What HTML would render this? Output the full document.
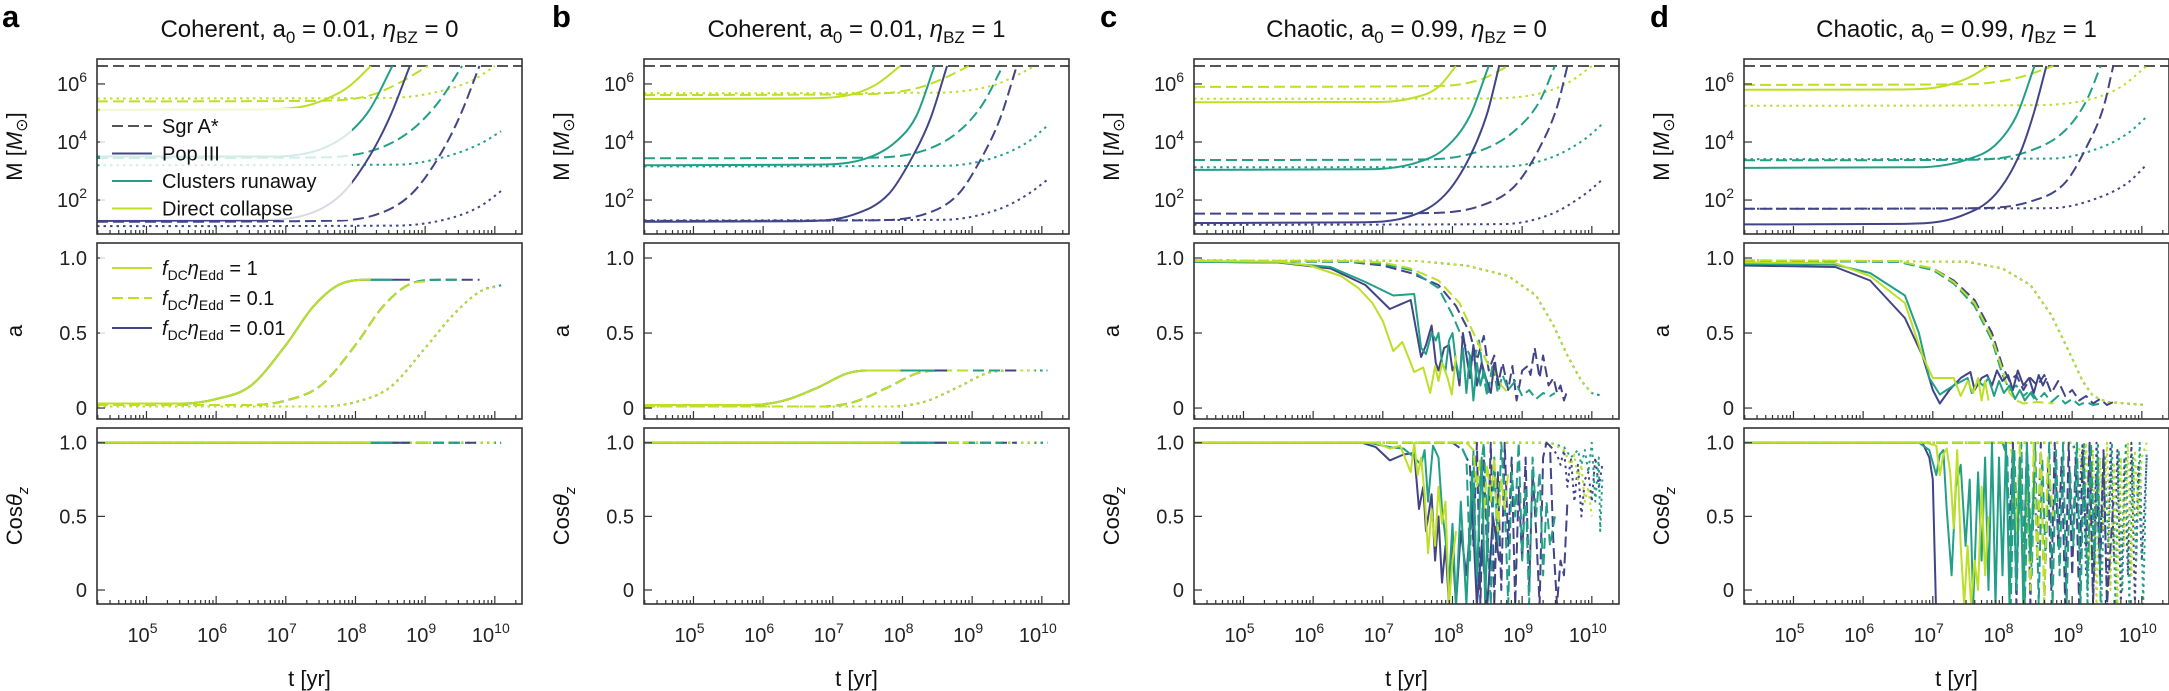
<!DOCTYPE html>
<html><head><meta charset="utf-8">
<style>
html,body{margin:0;padding:0;background:#fff;}
svg{display:block;font-family:"Liberation Sans","DejaVu Sans",sans-serif;}
</style></head>
<body>
<svg id="fig" xmlns="http://www.w3.org/2000/svg" width="2169" height="691" viewBox="0 0 2169 691"></svg>
<script>
// ---------- data (log10 t [yr], value) ----------
const sgrA = 6.62; // log10 M of Sgr A*
// Panel a: Coherent, a0=0.01, eta_BZ=0  (mass: log10 M)
const A_M_pop_solid=[[4.29,1.28],[6.5,1.3],[7.3,1.5],[7.8,2.2],[8.2,3.5],[8.5,4.9],[8.78,6.62]];
const A_M_pop_dash=[[4.29,1.25],[7.5,1.28],[8.3,1.5],[8.8,2.2],[9.2,3.5],[9.5,4.9],[9.78,6.62]];
const A_M_pop_dot=[[4.29,1.1],[8.6,1.12],[9.4,1.4],[9.8,1.8],[10.09,2.31]];
const A_M_cl_solid=[[4.29,3.5],[6.8,3.5],[7.5,3.75],[7.9,4.3],[8.2,5.1],[8.53,6.62]];
const A_M_cl_dash=[[4.29,3.45],[7.5,3.47],[8.3,3.75],[8.8,4.4],[9.2,5.4],[9.53,6.62]];
const A_M_cl_dot=[[4.29,3.2],[8.6,3.22],[9.3,3.5],[9.8,3.95],[10.09,4.37]];
const A_M_dc_solid=[[4.29,5.11],[6.5,5.12],[7.2,5.2],[7.6,5.5],[7.9,5.9],[8.22,6.62]];
const A_M_dc_dash=[[4.29,5.4],[7.5,5.42],[8.2,5.6],[8.6,6.0],[9.04,6.62]];
const A_M_dc_dot=[[4.29,5.5],[8.5,5.52],[9.3,5.8],[9.7,6.15],[10.0,6.62]];
const A_a_solid=[[4.29,0.03],[5.5,0.03],[6.0,0.06],[6.5,0.15],[7.0,0.42],[7.4,0.68],[7.8,0.83],[8.2,0.855],[8.78,0.855]];
const A_a_dash=[[4.29,0.02],[6.5,0.02],[7.0,0.05],[7.5,0.15],[8.0,0.42],[8.4,0.68],[8.8,0.83],[9.2,0.855],[9.8,0.855]];
const A_a_dot=[[4.29,0.01],[7.5,0.01],[8.0,0.04],[8.5,0.14],[9.0,0.4],[9.4,0.62],[9.8,0.78],[10.1,0.82]];
const COH_cos=[[4.29,1],[10.2,1]];
// Panel b: Coherent, a0=0.01, eta_BZ=1
const B_M_pop_solid=[[4.29,1.25],[6.5,1.27],[7.3,1.5],[7.8,2.2],[8.1,3.3],[8.4,4.8],[8.64,6.62]];
const B_M_pop_dash=[[4.29,1.28],[7.5,1.3],[8.3,1.5],[8.8,2.2],[9.1,3.3],[9.4,4.8],[9.64,6.62]];
const B_M_pop_dot=[[4.29,1.3],[8.6,1.32],[9.4,1.7],[9.8,2.2],[10.08,2.7]];
const B_M_cl_solid=[[4.29,3.2],[6.8,3.22],[7.5,3.45],[7.9,4.0],[8.2,4.9],[8.46,6.62]];
const B_M_cl_dash=[[4.29,3.44],[7.5,3.46],[8.3,3.7],[8.8,4.35],[9.15,5.3],[9.44,6.62]];
const B_M_cl_dot=[[4.29,3.16],[8.6,3.18],[9.3,3.45],[9.8,4.0],[10.08,4.56]];
const B_M_dc_solid=[[4.29,5.48],[6.5,5.5],[7.2,5.6],[7.6,5.95],[7.97,6.62]];
const B_M_dc_dash=[[4.29,5.62],[7.5,5.65],[8.2,5.85],[8.6,6.2],[8.95,6.62]];
const B_M_dc_dot=[[4.29,5.68],[8.5,5.7],[9.3,5.95],[9.6,6.25],[9.9,6.62]];
const B_a_solid=[[4.29,0.02],[5.8,0.02],[6.3,0.05],[6.8,0.14],[7.2,0.23],[7.5,0.25],[8.7,0.25]];
const B_a_dash=[[4.29,0.01],[6.8,0.01],[7.3,0.04],[7.8,0.14],[8.2,0.23],[8.5,0.25],[9.7,0.25]];
const B_a_dot=[[4.29,0.01],[7.8,0.01],[8.3,0.04],[8.8,0.14],[9.2,0.23],[9.5,0.25],[10.1,0.25]];
// Panel c: Chaotic, a0=0.99, eta_BZ=0
const C_M_pop_solid=[[4.29,1.21],[6.6,1.23],[7.4,1.45],[7.9,2.2],[8.25,3.5],[8.5,5.0],[8.67,6.62]];
const C_M_pop_dash=[[4.29,1.53],[7.6,1.55],[8.4,1.8],[8.9,2.5],[9.25,3.8],[9.5,5.2],[9.65,6.62]];
const C_M_pop_dot=[[4.29,1.15],[8.7,1.17],[9.4,1.5],[9.9,2.2],[10.15,2.7]];
const C_M_cl_solid=[[4.29,3.04],[6.8,3.06],[7.5,3.3],[7.9,3.8],[8.25,4.9],[8.52,6.62]];
const C_M_cl_dash=[[4.29,3.38],[7.6,3.4],[8.4,3.7],[8.9,4.4],[9.25,5.4],[9.47,6.62]];
const C_M_cl_dot=[[4.29,3.13],[8.7,3.15],[9.4,3.45],[9.9,4.1],[10.15,4.62]];
const C_M_dc_solid=[[4.29,5.37],[6.8,5.38],[7.4,5.5],[7.8,5.9],[8.05,6.62]];
const C_M_dc_dash=[[4.29,5.9],[7.8,5.93],[8.4,6.15],[8.8,6.62]];
const C_M_dc_dot=[[4.29,5.49],[8.5,5.5],[9.3,5.7],[9.7,6.1],[10.0,6.62]];
const C_a_pop_solid=[[4.29,0.975],[5.5,0.97],[6.25,0.93],[6.75,0.82],[7.1,0.66],[7.4,0.72],[7.55,0.34],[7.62,0.42],[7.7,0.55],[7.76,0.3],[7.8,0.25],[7.88,0.4],[7.95,0.42],[8.0,0.25],[8.05,0.3],[8.1,0.15],[8.15,0.5],[8.2,0.35],[8.25,0.2],[8.3,0.42],[8.35,0.15],[8.42,0.3],[8.48,0.2],[8.55,0.1],[8.6,0.3],[8.67,0.15]];
const C_a_cl_solid=[[4.29,0.975],[5.5,0.97],[6.25,0.94],[6.75,0.84],[7.15,0.75],[7.45,0.76],[7.55,0.4],[7.62,0.36],[7.7,0.5],[7.76,0.45],[7.8,0.5],[7.85,0.3],[7.9,0.25],[7.95,0.45],[8.0,0.5],[8.05,0.3],[8.1,0.2],[8.15,0.4],[8.2,0.1],[8.25,0.35],[8.3,0.05],[8.35,0.3],[8.4,0.15],[8.45,0.25],[8.52,0.1]];
const C_a_dc_solid=[[4.29,0.98],[5.5,0.975],[5.95,0.95],[6.4,0.88],[6.65,0.8],[6.85,0.7],[7.0,0.58],[7.15,0.38],[7.28,0.44],[7.4,0.3],[7.45,0.24],[7.58,0.27],[7.68,0.1],[7.75,0.28],[7.8,0.18],[7.85,0.3],[7.93,0.2],[7.99,0.09],[8.05,0.35]];
const C_a_pop_dash=[[4.29,0.98],[6.5,0.975],[7.0,0.95],[7.4,0.9],[7.8,0.82],[8.05,0.68],[8.25,0.5],[8.35,0.32],[8.45,0.48],[8.52,0.25],[8.6,0.35],[8.65,0.15],[8.72,0.3],[8.8,0.12],[8.86,0.28],[8.92,0.05],[9.0,0.25],[9.08,0.28],[9.12,0.22],[9.18,0.4],[9.25,0.2],[9.3,0.35],[9.38,0.15],[9.45,0.2],[9.5,0.1],[9.55,0.15],[9.6,0.05],[9.65,0.12]];
const C_a_cl_dash=[[4.29,0.98],[6.5,0.975],[7.0,0.96],[7.4,0.92],[7.8,0.8],[8.0,0.62],[8.2,0.4],[8.3,0.3],[8.38,0.45],[8.45,0.2],[8.5,0.08],[8.58,0.3],[8.65,0.1],[8.72,0.22],[8.8,0.12],[8.9,0.18],[9.0,0.08],[9.1,0.12],[9.2,0.06],[9.3,0.1],[9.4,0.08],[9.47,0.1]];
const C_a_dc_dash=[[4.29,0.985],[6.5,0.98],[7.0,0.97],[7.4,0.93],[7.8,0.85],[8.1,0.7],[8.3,0.5],[8.4,0.4],[8.5,0.3],[8.6,0.25],[8.7,0.15],[8.8,0.1]];
const C_a_dot=[[4.29,0.985],[7.5,0.98],[8.2,0.95],[8.8,0.88],[9.2,0.75],[9.45,0.55],[9.65,0.35],[9.85,0.18],[10.0,0.1],[10.15,0.08]];
const C_c_pop_solid=[[4.29,1],[6.7,1],[6.9,0.97],[7.1,0.88],[7.3,0.92],[7.45,0.93],[7.52,0.55],[7.58,0.7],[7.62,0.4],[7.7,0.65],[7.75,0.2],[7.8,0.5],[7.85,0.05],[7.9,0.3],[7.95,-0.1],[8.0,0.3],[8.05,-0.1],[8.12,0.4],[8.2,0.1],[8.28,0.6],[8.35,-0.1],[8.42,0.3],[8.5,-0.1],[8.58,0.5],[8.67,0.2]];
const C_c_cl_solid=[[4.29,1],[6.8,1],[7.1,0.97],[7.3,0.96],[7.45,0.9],[7.55,0.85],[7.6,0.95],[7.65,0.6],[7.72,0.98],[7.8,0.9],[7.85,0.55],[7.9,0.35],[7.95,0.05],[8.0,0.45],[8.05,-0.1],[8.12,0.6],[8.2,-0.1],[8.28,0.8],[8.35,0.1],[8.42,0.9],[8.47,-0.1],[8.52,0.7]];
const C_c_dc_solid=[[4.29,1],[6.9,1],[7.1,0.96],[7.25,0.98],[7.4,0.8],[7.45,1.0],[7.5,0.78],[7.55,0.9],[7.6,0.65],[7.65,0.25],[7.7,0.55],[7.75,0.3],[7.8,0.7],[7.85,0.45],[7.9,0.6],[7.95,-0.1],[8.0,0.2],[8.05,0.4]];
const C_c_pop_dash=[[4.29,1],[8.0,1],[8.15,0.95],[8.25,0.85],[8.3,0.3],[8.35,1.0],[8.4,-0.1],[8.45,0.9],[8.5,0.2],[8.55,1.0],[8.6,-0.1],[8.65,0.8],[8.7,0.0],[8.75,1.0],[8.8,0.3],[8.85,0.9],[8.9,-0.1],[8.95,0.7],[9.0,0.2],[9.05,0.9],[9.1,0.0],[9.15,0.8],[9.2,0.4],[9.25,-0.1],[9.3,0.9],[9.35,1.0],[9.4,0.98],[9.45,0.3],[9.5,-0.1],[9.55,0.2],[9.6,0.1],[9.65,0.6]];
const C_c_cl_dash=[[4.29,1],[8.1,1],[8.2,0.9],[8.25,0.2],[8.3,0.95],[8.35,-0.1],[8.4,0.8],[8.45,1.0],[8.5,0.4],[8.55,-0.1],[8.6,0.9],[8.65,0.3],[8.7,1.0],[8.75,0.6],[8.8,-0.1],[8.85,0.8],[8.9,0.5],[8.95,1.0],[9.0,0.2],[9.05,0.7],[9.1,-0.1],[9.15,0.9],[9.2,0.5],[9.25,0.8],[9.3,0.1],[9.35,0.6],[9.4,0.3],[9.47,0.5]];
const C_c_dc_dash=[[4.29,1],[8.2,1],[8.3,0.95],[8.35,0.7],[8.4,0.9],[8.45,0.5],[8.5,0.85],[8.55,0.6],[8.6,0.9],[8.65,0.4],[8.7,0.75],[8.75,0.55],[8.8,0.8]];
const C_c_pop_dot=[[4.29,1],[9.3,1],[9.4,0.98],[9.5,0.92],[9.55,0.85],[9.6,0.95],[9.65,0.7],[9.7,0.9],[9.75,0.6],[9.8,0.85],[9.85,0.5],[9.9,0.75],[9.95,0.8],[10.0,0.6],[10.05,0.9],[10.1,0.7],[10.15,0.85]];
const C_c_cl_dot=[[4.29,1],[9.4,1],[9.6,0.97],[9.7,0.9],[9.8,0.95],[9.85,0.85],[9.9,0.95],[9.95,0.8],[10.0,1.0],[10.05,0.6],[10.1,0.9],[10.12,0.4],[10.15,0.75]];
const C_c_dc_dot=[[4.29,1],[9.4,1],[9.6,0.95],[9.7,0.85],[9.75,0.92],[9.8,0.75],[9.85,0.85],[9.9,0.6],[9.95,0.7],[10.0,0.5]];
// Panel d: Chaotic, a0=0.99, eta_BZ=1
const D_M_pop_solid=[[4.29,1.16],[6.6,1.18],[7.4,1.45],[7.9,2.2],[8.25,3.6],[8.45,5.0],[8.63,6.62]];
const D_M_pop_dash=[[4.29,1.7],[7.6,1.72],[8.4,1.95],[8.9,2.6],[9.2,3.8],[9.45,5.2],[9.59,6.62]];
const D_M_pop_dot=[[4.29,1.7],[8.7,1.72],[9.4,2.1],[9.8,2.6],[10.07,3.22]];
const D_M_cl_solid=[[4.29,3.11],[6.8,3.13],[7.5,3.4],[7.9,3.9],[8.2,4.9],[8.46,6.62]];
const D_M_cl_dash=[[4.29,3.37],[7.6,3.39],[8.4,3.7],[8.9,4.4],[9.2,5.4],[9.41,6.62]];
const D_M_cl_dot=[[4.29,3.41],[8.7,3.43],[9.4,3.8],[9.8,4.3],[10.07,4.87]];
const D_M_dc_solid=[[4.29,5.8],[6.5,5.81],[7.1,5.9],[7.5,6.2],[7.8,6.62]];
const D_M_dc_dash=[[4.29,5.97],[7.5,5.99],[8.2,6.2],[8.73,6.62]];
const D_M_dc_dot=[[4.29,5.25],[8.5,5.27],[9.3,5.5],[9.7,5.9],[10.07,6.62]];
const D_a_pop_solid=[[4.29,0.95],[5.6,0.94],[6.1,0.85],[6.6,0.6],[6.85,0.35],[7.0,0.12],[7.1,0.03],[7.24,0.12],[7.4,0.2],[7.54,0.24],[7.6,0.12],[7.7,0.2],[7.78,0.22],[7.85,0.15],[7.92,0.25],[8.0,0.18],[8.08,0.22],[8.15,0.12],[8.22,0.25],[8.3,0.15],[8.38,0.2],[8.45,0.1],[8.52,0.22],[8.58,0.15],[8.63,0.2]];
const D_a_cl_solid=[[4.29,0.96],[5.6,0.955],[6.1,0.9],[6.6,0.75],[6.8,0.5],[6.95,0.2],[7.1,0.09],[7.3,0.15],[7.5,0.2],[7.56,0.1],[7.65,0.18],[7.72,0.15],[7.8,0.2],[7.88,0.08],[7.95,0.18],[8.02,0.1],[8.1,0.15],[8.18,0.06],[8.25,0.12],[8.32,0.05],[8.4,0.1],[8.46,0.06]];
const D_a_dc_solid=[[4.29,0.97],[5.6,0.965],[6.1,0.88],[6.6,0.7],[6.85,0.35],[7.0,0.2],[7.3,0.2],[7.4,0.08],[7.5,0.18],[7.58,0.1],[7.65,0.2],[7.7,0.05],[7.75,0.18],[7.8,0.05]];
const D_a_pop_dash=[[4.29,0.98],[6.5,0.975],[7.0,0.93],[7.3,0.85],[7.6,0.72],[7.85,0.5],[8.0,0.28],[8.1,0.18],[8.2,0.22],[8.3,0.12],[8.4,0.2],[8.5,0.15],[8.6,0.22],[8.7,0.1],[8.8,0.18],[8.9,0.08],[9.0,0.12],[9.1,0.05],[9.2,0.08],[9.3,0.03],[9.4,0.06],[9.5,0.02],[9.59,0.04]];
const D_a_cl_dash=[[4.29,0.98],[6.5,0.975],[7.0,0.92],[7.3,0.83],[7.6,0.68],[7.85,0.45],[8.0,0.22],[8.1,0.12],[8.2,0.15],[8.3,0.08],[8.4,0.12],[8.5,0.05],[8.6,0.1],[8.7,0.04],[8.8,0.08],[8.9,0.03],[9.0,0.06],[9.1,0.02],[9.2,0.04],[9.3,0.02],[9.41,0.03]];
const D_a_dc_dash=[[4.29,0.985],[6.5,0.98],[7.0,0.93],[7.3,0.84],[7.6,0.7],[7.85,0.47],[8.0,0.25],[8.1,0.1],[8.2,0.05],[8.3,0.03],[8.5,0.04],[8.73,0.03]];
const D_a_dot=[[4.29,0.985],[7.5,0.975],[8.0,0.93],[8.4,0.82],[8.7,0.62],[8.95,0.38],[9.15,0.18],[9.3,0.08],[9.5,0.04],[10.07,0.02]];
const D_c_pop_solid=[[4.29,1],[6.85,1],[6.95,0.9],[7.0,0.75],[7.05,-0.2]];
const D_c_cl_solid=[[4.29,1],[6.8,1],[6.95,0.95],[7.05,0.78],[7.1,0.92],[7.15,0.95],[7.2,0.55],[7.27,0.1],[7.33,0.7],[7.4,0.85],[7.47,0.3],[7.53,0.75],[7.58,-0.1],[7.65,0.8],[7.7,0.2],[7.75,0.9],[7.8,0.0],[7.85,1.0],[7.9,-0.1],[7.95,0.9],[8.0,0.1],[8.05,1.0],[8.1,-0.1],[8.15,0.95],[8.2,0.0],[8.25,0.9],[8.3,-0.1],[8.35,1.0],[8.4,0.2],[8.46,0.8]];
const D_c_dc_solid=[[4.29,1],[6.9,1],[7.05,0.98],[7.1,0.78],[7.15,0.92],[7.2,0.96],[7.25,0.8],[7.3,0.42],[7.35,0.95],[7.4,0.3],[7.45,-0.1],[7.5,0.3],[7.55,-0.1],[7.6,0.2],[7.65,0.0],[7.7,0.7],[7.75,0.1],[7.8,0.5]];
const D_c_pop_dash=[[4.29,1],[8.0,1],[8.05,0.95],[8.1,0.4],[8.15,1.0],[8.2,-0.1],[8.25,0.9],[8.3,0.1],[8.35,1.0],[8.4,-0.1],[8.45,0.95],[8.5,0.2],[8.55,1.0],[8.6,-0.1],[8.65,0.85],[8.7,0.0],[8.75,1.0],[8.8,0.3],[8.85,0.9],[8.9,-0.1],[8.95,1.0],[9.0,0.1],[9.05,0.9],[9.1,-0.1],[9.15,0.95],[9.2,0.3],[9.25,1.0],[9.3,-0.1],[9.35,0.8],[9.4,0.1],[9.45,0.95],[9.5,-0.1],[9.59,0.6]];
const D_c_cl_dash=[[4.29,1],[8.0,1],[8.07,0.9],[8.12,-0.1],[8.17,0.95],[8.22,0.3],[8.27,1.0],[8.32,-0.1],[8.37,0.85],[8.42,0.1],[8.47,1.0],[8.52,-0.1],[8.57,0.9],[8.62,0.2],[8.67,1.0],[8.72,-0.1],[8.77,0.95],[8.82,0.1],[8.87,1.0],[8.92,-0.1],[8.97,0.8],[9.02,0.3],[9.07,1.0],[9.12,-0.1],[9.17,0.9],[9.22,0.0],[9.27,1.0],[9.32,0.2],[9.37,0.9],[9.41,-0.1]];
const D_c_dc_dash=[[4.29,1],[8.1,1],[8.15,0.9],[8.2,0.4],[8.25,1.0],[8.3,-0.1],[8.35,0.9],[8.4,0.0],[8.45,1.0],[8.5,0.2],[8.55,0.95],[8.6,-0.1],[8.65,0.9],[8.73,0.5]];
const D_c_pop_dot=[[4.29,1],[9.0,1],[9.05,0.95],[9.1,0.6],[9.15,1.0],[9.2,0.1],[9.25,0.95],[9.3,-0.1],[9.35,1.0],[9.4,0.3],[9.45,0.9],[9.5,-0.1],[9.55,1.0],[9.6,0.2],[9.65,0.95],[9.7,-0.1],[9.75,0.9],[9.8,0.1],[9.85,1.0],[9.9,-0.1],[9.95,0.85],[10.0,0.2],[10.07,0.9]];
const D_c_cl_dot=[[4.29,1],[9.0,1],[9.07,0.9],[9.12,0.2],[9.17,1.0],[9.22,-0.1],[9.27,0.85],[9.32,0.1],[9.37,1.0],[9.42,-0.1],[9.47,0.9],[9.52,0.3],[9.57,1.0],[9.62,-0.1],[9.67,0.95],[9.72,0.0],[9.77,1.0],[9.82,-0.1],[9.87,0.9],[9.92,0.2],[9.97,1.0],[10.02,-0.1],[10.07,0.95]];
const D_c_dc_dot=[[4.29,1],[9.0,1],[9.1,0.98],[9.15,0.7],[9.2,1.0],[9.25,0.2],[9.3,0.95],[9.35,-0.1],[9.4,0.9],[9.45,0.4],[9.5,1.0],[9.55,0.0],[9.6,0.85],[9.65,-0.1],[9.7,0.9],[9.75,0.3],[9.8,1.0],[9.85,0.1],[9.9,0.95],[9.95,0.5],[10.0,0.9],[10.07,1.0]];
const xTickExps=[5,6,7,8,9,10];
const mTickExps=[2,4,6];
const linTicks=[0,0.5,1.0];
const linTickLabels=["0","0.5","1.0"];

// ---------- layout ----------
const NS="http://www.w3.org/2000/svg";
const svg=document.getElementById('fig');
const COLORS={pop:'#414487',cl:'#22a087',dc:'#bddf26'};
const DASH={solid:null,dash:'11,5',dot:'2.5,4'};
const XD=[4.29,10.39], PW=425;
const ROWS={M:{y0:59,y1:234,d:[0.83,6.86]},a:{y0:243,y1:419,d:[-0.073,1.1]},c:{y0:428,y1:604,d:[-0.095,1.10]}};
function el(tag,attrs,parent){const e=document.createElementNS(NS,tag);for(const k in attrs)e.setAttribute(k,attrs[k]);(parent||svg).appendChild(e);return e;}
function monotonePath(pts){
  const n=pts.length; if(n<2) return '';
  if(n===2) return `M${pts[0][0]},${pts[0][1]}L${pts[1][0]},${pts[1][1]}`;
  const dx=[],s=[];for(let i=0;i<n-1;i++){dx[i]=pts[i+1][0]-pts[i][0];s[i]=(pts[i+1][1]-pts[i][1])/dx[i];}
  const m=[s[0]];for(let i=1;i<n-1;i++){m[i]=(s[i-1]*s[i]<=0)?0:(s[i-1]+s[i])/2;}m[n-1]=s[n-2];
  for(let i=0;i<n-1;i++){if(s[i]===0){m[i]=0;m[i+1]=0;continue;}const a=m[i]/s[i],b=m[i+1]/s[i],h=a*a+b*b;if(h>9){const t=3/Math.sqrt(h);m[i]=t*a*s[i];m[i+1]=t*b*s[i];}}
  let d=`M${pts[0][0]},${pts[0][1]}`;
  for(let i=0;i<n-1;i++){const h=dx[i]/3;d+=`C${pts[i][0]+h},${pts[i][1]+m[i]*h} ${pts[i+1][0]-h},${pts[i+1][1]-m[i+1]*h} ${pts[i+1][0]},${pts[i+1][1]}`;}
  return d;
}
function truncate(pts,tEnd){
  const out=[];for(let i=0;i<pts.length;i++){
    if(pts[i][0]<=tEnd){out.push(pts[i]);}
    else{const p=pts[i-1];if(p){const f=(tEnd-p[0])/(pts[i][0]-p[0]);out.push([tEnd,p[1]+f*(pts[i][1]-p[1])]);}break;}
  }return out;
}
let clipId=0;
function buildPanel(P){
  const L=P.left;
  const X=t=>L+(t-XD[0])/(XD[1]-XD[0])*PW;
  const g=el('g',{});  
  const letter=el('text',{x:P.letterX,y:27,'font-size':31,'font-weight':'bold',fill:'#000'},g);letter.textContent=P.letter;
  
  const title=el('text',{x:L+PW/2,y:37,'font-size':24,'text-anchor':'middle',fill:'#111'},g);
  
  title.innerHTML=`${P.kind}, a<tspan dy="6" font-size="17">0</tspan><tspan dy="-6"> = ${P.a0}, </tspan><tspan font-style="italic">η</tspan><tspan dy="6" font-size="17">BZ</tspan><tspan dy="-6"> = ${P.bz}</tspan>`;
  for(const key of ['M','a','c']){
    const R=ROWS[key];
    const Y=key==='M'?(v=>R.y1-(v-R.d[0])/(R.d[1]-R.d[0])*(R.y1-R.y0)):(v=>R.y1-(v-R.d[0])/(R.d[1]-R.d[0])*(R.y1-R.y0));
    const sub=el('g',{},g);
    const cid='clip'+(clipId++);
    const cp=el('clipPath',{id:cid},sub);el('rect',{x:L,y:R.y0,width:PW,height:R.y1-R.y0},cp);
    const lines=el('g',{'clip-path':`url(#${cid})`},sub);
    if(key==='M'){const s=el('line',{x1:L,x2:L+PW,y1:Y(sgrA),y2:Y(sgrA),stroke:'#555','stroke-width':2,'stroke-dasharray':'11,5'},lines);
      }
    for(const style of ['dot','dash','solid']){for(const seed of ['pop','cl','dc']){
      const mser=P.M[seed][style]; const tEnd=mser[mser.length-1][0];
      let raw=key==='M'?mser:(key==='a'?P.a[seed][style]:P.c[seed][style]);
      raw=truncate(raw,tEnd);
      const pts=raw.map(p=>[X(p[0]),Y(p[1])]);
      const smooth=key==='M'||P.coherent;
      const d=smooth?monotonePath(pts):('M'+pts.map(p=>p[0].toFixed(1)+','+p[1].toFixed(1)).join('L'));
      const a={d:d,fill:'none',stroke:COLORS[seed],'stroke-width':2,'stroke-linejoin':'round'};
      if(DASH[style])a['stroke-dasharray']=DASH[style];
      const path=el('path',a,lines);
      
      
    }}
    // frame
    const fr=el('rect',{x:L,y:R.y0,width:PW,height:R.y1-R.y0,fill:'none',stroke:'#333','stroke-width':1.6},sub);
    
    // x ticks
    for(let e=4;e<=10;e++){for(let k=1;k<=9;k++){const t=e+Math.log10(k);if(t<XD[0]||t>XD[1])continue;
      const x=X(t);el('line',{x1:x,x2:x,y1:R.y1,y2:R.y1-(k===1?8:4),stroke:'#333','stroke-width':1.2},sub);}}
    // y ticks
    const ticks=key==='M'?mTickExps:linTicks;
    ticks.forEach((v,i)=>{const y=Y(v);el('line',{x1:L,x2:L+8,y1:y,y2:y,stroke:'#333','stroke-width':1.2},sub);
      const tx=el('text',{x:L-10,y:y+7,'font-size':20,'text-anchor':'end',fill:'#222'},sub);
      
      if(key==='M')tx.innerHTML=`10<tspan dy="-9" font-size="14">${v}</tspan>`;else tx.textContent=linTickLabels[i];});
    // y label
    const cy=(R.y0+R.y1)/2, lx=L-75;
    const yl=el('text',{x:lx,y:cy,'font-size':22,'text-anchor':'middle',fill:'#111',transform:`rotate(-90 ${lx} ${cy})`},sub);
    
    if(key==='M')yl.innerHTML=`M [<tspan font-style="italic">M</tspan><tspan dy="5" font-size="16">⊙</tspan><tspan dy="-5">]</tspan>`;
    else if(key==='a')yl.textContent='a';
    else yl.innerHTML=`Cos<tspan font-style="italic">θ</tspan><tspan dy="6" font-size="15" font-style="italic">z</tspan>`;
  }
  // x tick labels
  xTickExps.forEach(e=>{const tx=el('text',{x:X(e)-4,y:642,'font-size':20,'text-anchor':'middle',fill:'#222'},g);
    
    tx.innerHTML=`10<tspan dy="-9" font-size="14">${e}</tspan>`;});
  const xl=el('text',{x:L+PW/2,y:686,'font-size':22,'text-anchor':'middle',fill:'#111'},g);
  xl.textContent='t [yr]';
  return X;
}
const panels=[
 {letter:'a',letterX:2,left:97,kind:'Coherent',a0:'0.01',bz:'0',coherent:true,
  M:{pop:{solid:A_M_pop_solid,dash:A_M_pop_dash,dot:A_M_pop_dot},cl:{solid:A_M_cl_solid,dash:A_M_cl_dash,dot:A_M_cl_dot},dc:{solid:A_M_dc_solid,dash:A_M_dc_dash,dot:A_M_dc_dot}},
  a:{pop:{solid:A_a_solid,dash:A_a_dash,dot:A_a_dot},cl:{solid:A_a_solid,dash:A_a_dash,dot:A_a_dot},dc:{solid:A_a_solid,dash:A_a_dash,dot:A_a_dot}},
  c:{pop:{solid:COH_cos,dash:COH_cos,dot:COH_cos},cl:{solid:COH_cos,dash:COH_cos,dot:COH_cos},dc:{solid:COH_cos,dash:COH_cos,dot:COH_cos}}},
 {letter:'b',letterX:552,left:644,kind:'Coherent',a0:'0.01',bz:'1',coherent:true,
  M:{pop:{solid:B_M_pop_solid,dash:B_M_pop_dash,dot:B_M_pop_dot},cl:{solid:B_M_cl_solid,dash:B_M_cl_dash,dot:B_M_cl_dot},dc:{solid:B_M_dc_solid,dash:B_M_dc_dash,dot:B_M_dc_dot}},
  a:{pop:{solid:B_a_solid,dash:B_a_dash,dot:B_a_dot},cl:{solid:B_a_solid,dash:B_a_dash,dot:B_a_dot},dc:{solid:B_a_solid,dash:B_a_dash,dot:B_a_dot}},
  c:{pop:{solid:COH_cos,dash:COH_cos,dot:COH_cos},cl:{solid:COH_cos,dash:COH_cos,dot:COH_cos},dc:{solid:COH_cos,dash:COH_cos,dot:COH_cos}}},
 {letter:'c',letterX:1100,left:1194,kind:'Chaotic',a0:'0.99',bz:'0',coherent:false,
  M:{pop:{solid:C_M_pop_solid,dash:C_M_pop_dash,dot:C_M_pop_dot},cl:{solid:C_M_cl_solid,dash:C_M_cl_dash,dot:C_M_cl_dot},dc:{solid:C_M_dc_solid,dash:C_M_dc_dash,dot:C_M_dc_dot}},
  a:{pop:{solid:C_a_pop_solid,dash:C_a_pop_dash,dot:C_a_dot},cl:{solid:C_a_cl_solid,dash:C_a_cl_dash,dot:C_a_dot},dc:{solid:C_a_dc_solid,dash:C_a_dc_dash,dot:C_a_dot}},
  c:{pop:{solid:C_c_pop_solid,dash:C_c_pop_dash,dot:C_c_pop_dot},cl:{solid:C_c_cl_solid,dash:C_c_cl_dash,dot:C_c_cl_dot},dc:{solid:C_c_dc_solid,dash:C_c_dc_dash,dot:C_c_dc_dot}}},
 {letter:'d',letterX:1650,left:1744,kind:'Chaotic',a0:'0.99',bz:'1',coherent:false,
  M:{pop:{solid:D_M_pop_solid,dash:D_M_pop_dash,dot:D_M_pop_dot},cl:{solid:D_M_cl_solid,dash:D_M_cl_dash,dot:D_M_cl_dot},dc:{solid:D_M_dc_solid,dash:D_M_dc_dash,dot:D_M_dc_dot}},
  a:{pop:{solid:D_a_pop_solid,dash:D_a_pop_dash,dot:D_a_dot},cl:{solid:D_a_cl_solid,dash:D_a_cl_dash,dot:D_a_dot},dc:{solid:D_a_dc_solid,dash:D_a_dc_dash,dot:D_a_dot}},
  c:{pop:{solid:D_c_pop_solid,dash:D_c_pop_dash,dot:D_c_pop_dot},cl:{solid:D_c_cl_solid,dash:D_c_cl_dash,dot:D_c_cl_dot},dc:{solid:D_c_dc_solid,dash:D_c_dc_dash,dot:D_c_dc_dot}}}
];
panels.forEach(buildPanel);

// ---------- legends (panel a) ----------
function legend(name,x,y,w,h,rows){
  const g=el('g',{});
  el('rect',{x:x,y:y,width:w,height:h,fill:'#fff','fill-opacity':0.8,stroke:'none'},g);
  rows.forEach((r,i)=>{const yy=y+18+i*r.step;
    const ln=el('line',{x1:x+12,x2:x+52,y1:yy,y2:yy,stroke:r.color,'stroke-width':2},g);
    if(r.dash)ln.setAttribute('stroke-dasharray',r.dash);
    const t=el('text',{x:x+62,y:yy+7,'font-size':20,fill:'#111'},g);
    
    t.innerHTML=r.html;});
}
legend('mass-legend',100,108,252,112,[
 {color:'#555',dash:'11,5',html:'Sgr A*',step:27.5},
 {color:COLORS.pop,html:'Pop III',step:27.5},
 {color:COLORS.cl,html:'Clusters runaway',step:27.5},
 {color:COLORS.dc,html:'Direct collapse',step:27.5}]);
legend('eddington-legend',100,250,190,88,[
 {color:COLORS.dc,html:'<tspan font-style="italic">f</tspan><tspan dy="5" font-size="14">DC</tspan><tspan dy="-5" font-style="italic">η</tspan><tspan dy="5" font-size="14">Edd</tspan><tspan dy="-5"> = 1</tspan>',step:30},
 {color:COLORS.dc,dash:'11,5',html:'<tspan font-style="italic">f</tspan><tspan dy="5" font-size="14">DC</tspan><tspan dy="-5" font-style="italic">η</tspan><tspan dy="5" font-size="14">Edd</tspan><tspan dy="-5"> = 0.1</tspan>',step:30},
 {color:COLORS.pop,html:'<tspan font-style="italic">f</tspan><tspan dy="5" font-size="14">DC</tspan><tspan dy="-5" font-style="italic">η</tspan><tspan dy="5" font-size="14">Edd</tspan><tspan dy="-5"> = 0.01</tspan>',step:30}]);
</script>
</body></html>
